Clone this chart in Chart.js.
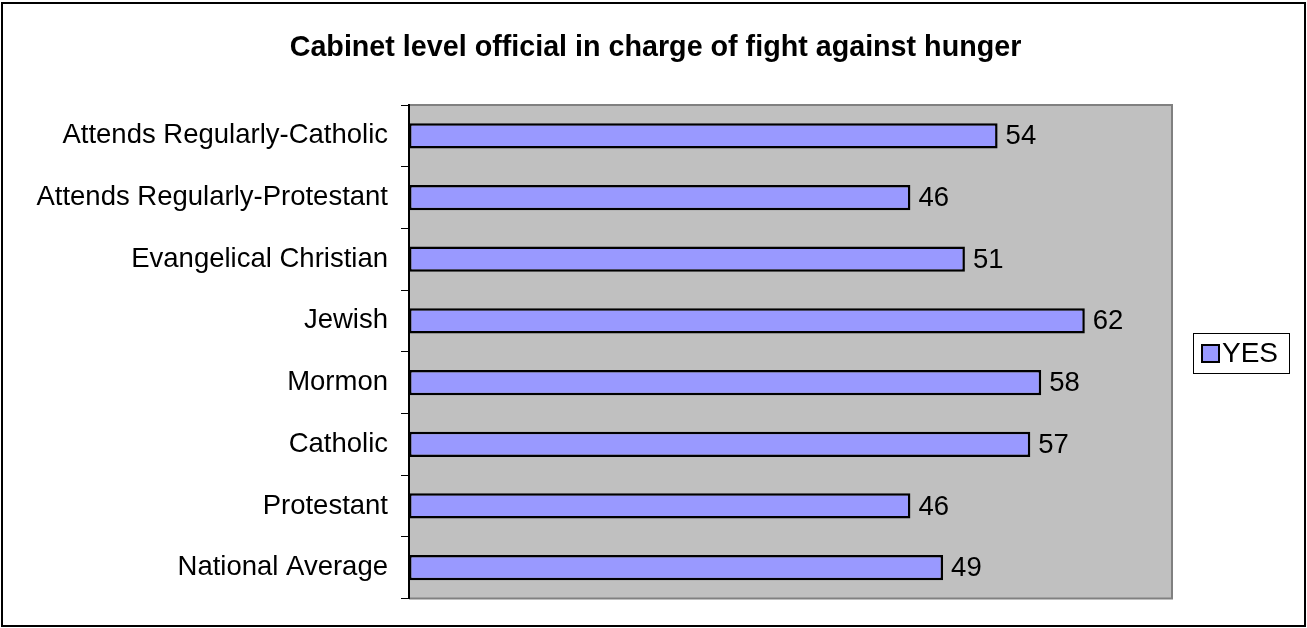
<!DOCTYPE html>
<html>
<head>
<meta charset="utf-8">
<script src="https://cdn.jsdelivr.net/npm/chart.js@4.4.0/dist/chart.umd.min.js"></script>
<style>
  html, body { margin: 0; padding: 0; background: #fff; }
  canvas { display: block; }
</style>
</head>
<body>
<canvas id="myChart" width="1307" height="628"></canvas>
<script>
// datos del grafico
var categorias = [
  "Attends Regularly-Catholic",
  "Attends Regularly-Protestant",
  "Evangelical Christian",
  "Jewish",
  "Mormon",
  "Catholic",
  "Protestant",
  "National Average"
];
var valoresYes = [54, 46, 51, 62, 58, 57, 46, 49];
var nombreSerie = "YES";
var titulo = "Cabinet level official in charge of fight against hunger";

var fuente = "Arial, 'Liberation Sans', sans-serif";

// fondo gris del area, marco exterior y titulo
var fondoPlugin = {
  id: "fondo",
  beforeDraw: function (chart) {
    var c = chart.ctx, a = chart.chartArea;
    c.save();
    c.fillStyle = "#fff";
    c.fillRect(0, 0, chart.width, chart.height);
    c.strokeStyle = "#000";
    c.lineWidth = 2;
    c.strokeRect(2, 3, chart.width - 4, chart.height - 5);

    // titulo centrado en todo el lienzo
    c.fillStyle = "#000";
    c.font = "bold 28.7px " + fuente;
    c.textAlign = "center";
    c.textBaseline = "middle";
    c.fillText(titulo, chart.width / 2 + 2, 48);

    c.fillStyle = "#C0C0C0";
    c.fillRect(a.left, a.top, a.right - a.left, a.bottom - a.top);
    c.strokeStyle = "#808080";
    c.lineWidth = 2;
    c.beginPath();
    c.moveTo(a.left, a.top);
    c.lineTo(a.right, a.top);
    c.lineTo(a.right, a.bottom);
    c.lineTo(a.left, a.bottom);
    c.stroke();
    c.restore();
  }
};

// etiquetas de valor y leyenda con recuadro
var etiquetasPlugin = {
  id: "etiquetas",
  afterDatasetsDraw: function (chart) {
    var c = chart.ctx;
    var meta = chart.getDatasetMeta(0);
    c.save();
    c.font = "27.5px " + fuente;
    c.fillStyle = "#000";
    c.textAlign = "left";
    c.textBaseline = "middle";
    meta.data.forEach(function (bar, i) {
      c.fillText(chart.data.datasets[0].data[i], bar.x + 8, bar.y + 1);
    });

    // leyenda
    var ds = chart.data.datasets[0];
    var lx = chart.chartArea.right + 21, ly = 333, lw = 96, lh = 40;
    c.fillStyle = "#fff";
    c.fillRect(lx, ly, lw, lh);
    c.strokeStyle = "#000";
    c.lineWidth = 1;
    c.strokeRect(lx + 0.5, ly + 0.5, lw, lh);
    c.fillStyle = ds.backgroundColor;
    c.fillRect(lx + 9, ly + 12, 17, 17);
    c.lineWidth = 2;
    c.strokeRect(lx + 9, ly + 12, 17, 17);
    c.fillStyle = "#000";
    c.font = "28px " + fuente;
    c.fillText(ds.label, lx + 29, ly + 21);
    c.restore();
  }
};

var ctx = document.getElementById("myChart").getContext("2d");

var miGrafico = new Chart(ctx, {
  type: "bar",
  data: {
    labels: categorias,
    datasets: [{
      label: nombreSerie,
      data: valoresYes,
      backgroundColor: "#9999FF",
      borderColor: "#000",
      borderWidth: 2.5,
      borderSkipped: false,
      barPercentage: 0.41,
      categoryPercentage: 1
    }]
  },
  options: {
    indexAxis: "y",
    responsive: false,
    animation: false,
    layout: { padding: { left: 0, right: 135, top: 105, bottom: 28 } },
    plugins: {
      legend: { display: false },
      tooltip: { enabled: false },
      title: { display: false }
    },
    scales: {
      x: {
        display: false,
        min: 0,
        max: 70
      },
      y: {
        afterFit: function (scale) { scale.width = 409; },
        grid: {
          drawOnChartArea: false,
          drawTicks: true,
          tickLength: 8,
          color: "#000",
          offset: true
        },
        border: { display: true, color: "#000", width: 2 },
        ticks: {
          color: "#000",
          padding: 13,
          font: { family: fuente, size: 27.5 }
        }
      }
    }
  },
  plugins: [fondoPlugin, etiquetasPlugin]
});
</script>
</body>
</html>
